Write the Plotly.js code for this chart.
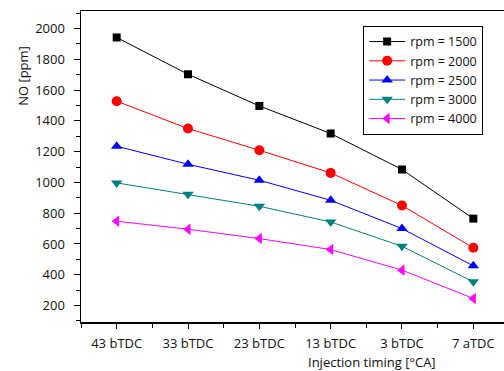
<!DOCTYPE html>
<html>
<head>
<meta charset="utf-8">
<script src="https://cdn.plot.ly/plotly-3.0.1.min.js"></script>
<style>html,body{margin:0;padding:0;background:#fff;}#chart{width:504px;height:371px;}</style>
</head>
<body>
<div id="chart"></div>
<script>
const categories = ["43 bTDC", "33 bTDC", "23 bTDC", "13 bTDC", "3 bTDC", "7 aTDC"];
const seriesNames = ["rpm = 1500", "rpm = 2000", "rpm = 2500", "rpm = 3000", "rpm = 4000"];
const rpm1500 = [1942, 1703, 1497, 1318, 1084, 765];
const rpm2000 = [1528, 1350, 1209, 1062, 850, 575];
const rpm2500 = [1235, 1118, 1014, 884, 700, 458];
const rpm3000 = [997, 923, 845, 743, 585, 354];
const rpm4000 = [748, 696, 635, 564, 430, 246];
const yTickVals = [200, 400, 600, 800, 1000, 1200, 1400, 1600, 1800, 2000];

const seriesValues = [rpm1500, rpm2000, rpm2500, rpm3000, rpm4000];
const colors = ["#000000", "#ff0000", "#0000ff", "#008080", "#ff00ff"];
const symbols = ["square", "circle", "triangle-up", "triangle-down", "triangle-left"];
const sizes = [8, 10, 10, 10, 10];
const xIdx = categories.map((c, i) => i);

const traces = seriesValues.map((vals, k) => ({
  type: "scatter",
  mode: "lines+markers",
  x: xIdx,
  y: vals,
  name: seriesNames[k],
  line: {color: colors[k], width: 1},
  marker: {color: colors[k], symbol: symbols[k], size: sizes[k]},
  cliponaxis: false
}));

const font = {family: "Open Sans, sans-serif", size: 13, color: "#111"};

const layout = {
  width: 504, height: 371,
  margin: {l: 80.5, r: 0, t: 10.7, b: 49.3},
  paper_bgcolor: "#fff", plot_bgcolor: "#fff",
  font: font,
  showlegend: true,
  legend: {
    x: 0.667, y: 0.952, xanchor: "left", yanchor: "top",
    bordercolor: "#000", borderwidth: 1, bgcolor: "#fff",
    font: {family: "Open Sans, sans-serif", size: 12.5, color: "#111"},
    itemwidth: 36, tracegroupgap: 0
  },
  xaxis: {
    range: [-0.5, 5.43],
    tickmode: "array", tickvals: xIdx, ticktext: categories,
    ticks: "outside", ticklen: 5, tickwidth: 1, tickcolor: "#000",
    minor: {tickmode: "linear", tick0: -0.5, dtick: 1, ticks: "outside", ticklen: 4, tickcolor: "#000"},
    showline: true, linecolor: "#000", linewidth: 1.5, mirror: true,
    showgrid: false, zeroline: false,
    tickfont: font, ticklabelstandoff: 4
  },
  yaxis: {
    range: [93, 2114],
    tickmode: "array", tickvals: yTickVals,
    ticks: "outside", ticklen: 6, tickwidth: 1, tickcolor: "#000",
    minor: {tickmode: "linear", tick0: 100, dtick: 200, ticks: "outside", ticklen: 4, tickcolor: "#000"},
    showline: true, linecolor: "#000", linewidth: 1.5, mirror: true,
    showgrid: false, zeroline: false,
    tickfont: font, ticklabelstandoff: 6
  },
  annotations: [
    {text: "Injection timing [°CA]", xref: "paper", yref: "paper",
     x: (371.7 - 80.5) / 423.5, y: -(361.7 - 321.7) / 311,
     xanchor: "center", yanchor: "middle", showarrow: false, font: font},
    {text: "NO [ppm]", xref: "paper", yref: "paper",
     x: -(80.5 - 23) / 423.5, y: 1 - (76 - 10.7) / 311,
     xanchor: "center", yanchor: "middle", textangle: -90, showarrow: false, font: font}
  ]
};

Plotly.newPlot("chart", traces, layout, {staticPlot: true, displayModeBar: false});
</script>
</body>
</html>
